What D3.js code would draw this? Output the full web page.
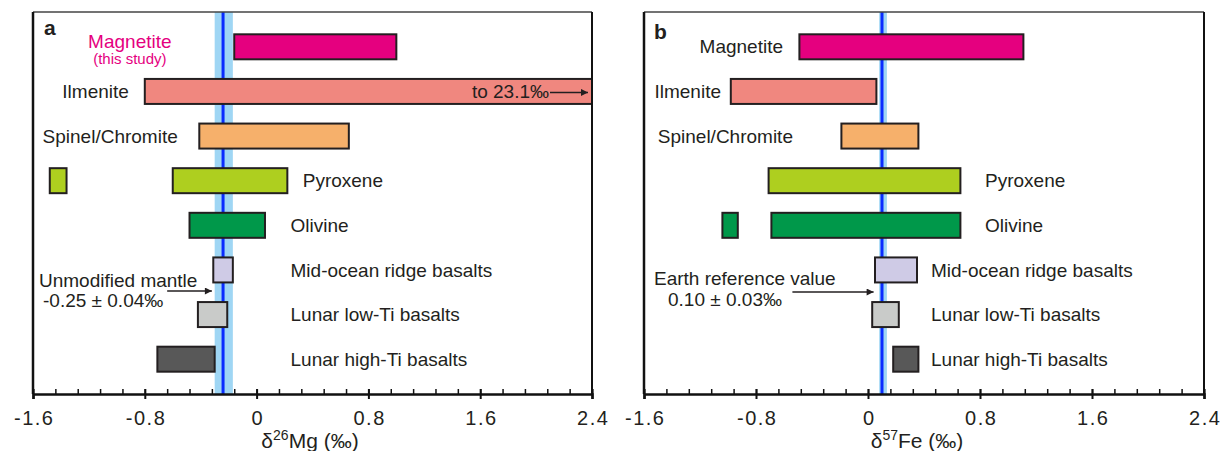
<!DOCTYPE html>
<html>
<head>
<meta charset="utf-8">
<script src="https://cdn.jsdelivr.net/npm/d3@7/dist/d3.min.js"></script>
<style>
  html, body { margin: 0; padding: 0; background: #fff; }
  svg { display: block; font-family: "Liberation Sans", Arial, Helvetica, sans-serif; }
</style>
</head>
<body>
<svg id="chart" width="1224" height="451"></svg>
<script>
// ---------------- data ----------------
const categories = ["Magnetite", "Ilmenite", "Spinel/Chromite", "Pyroxene", "Olivine",
  "Mid-ocean ridge basalts", "Lunar low-Ti basalts", "Lunar high-Ti basalts"];
const barColors = ["#e5007f", "#f0877f", "#f6b06b", "#aecf1f", "#00984a", "#cfcbe6", "#c9cbc9", "#585858"];

// δ26Mg ranges (‰)
const mgMin = [-0.16, -0.80, -0.41, -0.60, -0.48, -0.31, -0.42, -0.71];
const mgMax = [1.00, 23.1, 0.66, 0.22, 0.06, -0.17, -0.21, -0.30];
const mgExtraCat = ["Pyroxene"];
const mgExtraMin = [-1.48];
const mgExtraMax = [-1.36];
const mgRef = -0.24, mgRefLow = -0.30, mgRefHigh = -0.17;

// δ57Fe ranges (‰)
const feMin = [-0.49, -0.98, -0.19, -0.71, -0.69, 0.05, 0.03, 0.18];
const feMax = [1.11, 0.06, 0.36, 0.66, 0.66, 0.35, 0.22, 0.36];
const feExtraCat = ["Olivine"];
const feExtraMin = [-1.04];
const feExtraMax = [-0.93];
const feRef = 0.10, feRefLow = 0.08, feRefHigh = 0.135;

const majorTicks = [-1.6, -0.8, 0, 0.8, 1.6, 2.4];
const minorTicks = d3.range(-1.6, 2.4001, 0.16).map(v => +v.toFixed(2));
const tickLabels = ["-1.6", "-0.8", "0", "0.8", "1.6", "2.4"];

// ---------------- layout ----------------
const svg = d3.select("#chart");
const textColor = "#231f20";

const panels = [
  {
    letter: "a", left: 33, right: 592, letterX: 44, letterY: 35,
    mins: mgMin, maxs: mgMax, exCat: mgExtraCat, exMin: mgExtraMin, exMax: mgExtraMax,
    ref: mgRef, refLow: mgRefLow, refHigh: mgRefHigh,
    iso: "26", el: "Mg", titleX: 310,
    labels: [
      {v: -0.907, anchor: "middle", dy: -5, color: "#e5007f"},
      {v: -0.914, anchor: "end"},
      {v: -0.564, anchor: "end"},
      {v: 0.33, anchor: "start"},
      {v: 0.243, anchor: "start"},
      {v: 0.243, anchor: "start"},
      {v: 0.243, anchor: "start"},
      {v: 0.243, anchor: "start"}
    ],
    sub: {text: "(this study)", v: -0.907, dy: 12},
    note1: "Unmodified mantle", note1X: 39, note1Y: 280,
    note2: "-0.25 ± 0.04‰", note2X: 43, note2Y: 300,
    arrowFrom: -0.64, arrowTo: -0.32, arrowY: 291,
    ilmeniteNote: true
  },
  {
    letter: "b", left: 644, right: 1204, letterX: 654, letterY: 39,
    mins: feMin, maxs: feMax, exCat: feExtraCat, exMin: feExtraMin, exMax: feExtraMax,
    ref: feRef, refLow: feRefLow, refHigh: feRefHigh,
    iso: "57", el: "Fe", titleX: 917,
    labels: [
      {v: -0.607, anchor: "end"},
      {v: -1.05, anchor: "end"},
      {v: -0.536, anchor: "end"},
      {v: 0.836, anchor: "start"},
      {v: 0.836, anchor: "start"},
      {v: 0.45, anchor: "start"},
      {v: 0.45, anchor: "start"},
      {v: 0.45, anchor: "start"}
    ],
    note1: "Earth reference value", note1X: 654, note1Y: 278,
    note2: "0.10 ± 0.03‰", note2X: 668, note2Y: 299,
    arrowFrom: -0.54, arrowTo: 0.04, arrowY: 292,
    ilmeniteNote: false
  }
];

const plotTop = 12, plotBottom = 394;

const defs = svg.append("defs");
defs.append("marker")
  .attr("id", "arrowhead").attr("viewBox", "0 0 10 10")
  .attr("refX", 10).attr("refY", 5)
  .attr("markerWidth", 10).attr("markerHeight", 7)
  .attr("markerUnits", "userSpaceOnUse")
  .attr("orient", "auto")
  .append("path").attr("d", "M0,0 L10,5 L0,10 z").attr("fill", textColor);

panels.forEach((p, pi) => {
  const x = d3.scaleLinear().domain([-1.6, 2.4]).range([p.left, p.right]).clamp(true);
  const y = d3.scalePoint().domain(categories).range([plotTop, plotBottom]).padding(0.78);
  const barH = 25;
  const g = svg.append("g");

  // reference band and line
  g.append("rect")
    .attr("x", x(p.refLow)).attr("y", plotTop)
    .attr("width", x(p.refHigh) - x(p.refLow)).attr("height", plotBottom - plotTop)
    .attr("fill", "#9fd6f4");
  g.append("line")
    .attr("x1", x(p.ref)).attr("x2", x(p.ref))
    .attr("y1", plotTop).attr("y2", plotBottom)
    .attr("stroke", "#0a2cff").attr("stroke-width", 3);

  // bars
  const rows = categories.map((c, i) => ({c, i, lo: p.mins[i], hi: p.maxs[i]}));
  g.selectAll("rect.bar").data(rows).enter().append("rect")
    .attr("class", "bar")
    .attr("x", d => x(d.lo))
    .attr("y", d => y(d.c) - barH / 2)
    .attr("width", d => x(d.hi) - x(d.lo))
    .attr("height", barH)
    .attr("fill", d => barColors[d.i])
    .attr("stroke", "#231f20").attr("stroke-width", 2);

  const extras = p.exCat.map((c, k) => ({c, i: categories.indexOf(c), lo: p.exMin[k], hi: p.exMax[k]}));
  g.selectAll("rect.extra").data(extras).enter().append("rect")
    .attr("class", "extra")
    .attr("x", d => x(d.lo))
    .attr("y", d => y(d.c) - barH / 2)
    .attr("width", d => x(d.hi) - x(d.lo))
    .attr("height", barH)
    .attr("fill", d => barColors[d.i])
    .attr("stroke", "#231f20").attr("stroke-width", 2);

  // category labels
  g.selectAll("text.cat").data(rows).enter().append("text")
    .attr("class", "cat")
    .attr("x", d => x(p.labels[d.i].v))
    .attr("y", d => y(d.c) + (p.labels[d.i].dy || 0))
    .attr("dy", "0.35em")
    .attr("text-anchor", d => p.labels[d.i].anchor)
    .attr("font-size", 19)
    .attr("fill", d => p.labels[d.i].color || textColor)
    .text(d => d.c);

  if (p.sub) {
    g.append("text")
      .attr("x", x(p.sub.v)).attr("y", y(categories[0]) + p.sub.dy)
      .attr("dy", "0.35em").attr("text-anchor", "middle")
      .attr("font-size", 15).attr("fill", "#e5007f")
      .text(p.sub.text);
  }

  if (p.ilmeniteNote) {
    const yi = y("Ilmenite");
    g.append("text")
      .attr("x", 549).attr("y", yi).attr("dy", "0.35em")
      .attr("text-anchor", "end").attr("font-size", 19).attr("fill", textColor)
      .text("to 23.1‰");
    g.append("line")
      .attr("x1", 550).attr("x2", 588).attr("y1", yi + 1).attr("y2", yi + 1)
      .attr("stroke", textColor).attr("stroke-width", 1.5)
      .attr("marker-end", "url(#arrowhead)");
  }

  // annotation
  g.append("text").attr("x", p.note1X).attr("y", p.note1Y).attr("dy", "0.35em")
    .attr("font-size", 19).attr("fill", textColor).text(p.note1);
  g.append("text").attr("x", p.note2X).attr("y", p.note2Y).attr("dy", "0.35em")
    .attr("font-size", 19).attr("fill", textColor).text(p.note2);
  g.append("line")
    .attr("x1", x(p.arrowFrom)).attr("x2", x(p.arrowTo))
    .attr("y1", p.arrowY).attr("y2", p.arrowY)
    .attr("stroke", textColor).attr("stroke-width", 1.5)
    .attr("marker-end", "url(#arrowhead)");

  // frame
  g.append("line").attr("x1", p.left).attr("x2", p.right).attr("y1", plotTop).attr("y2", plotTop)
    .attr("stroke", "#444").attr("stroke-width", 1.5);
  g.append("line").attr("x1", p.right).attr("x2", p.right).attr("y1", plotTop).attr("y2", plotBottom)
    .attr("stroke", "#111").attr("stroke-width", 2);
  g.append("line").attr("x1", p.left).attr("x2", p.left).attr("y1", plotTop).attr("y2", plotBottom)
    .attr("stroke", "#111").attr("stroke-width", 2.5);

  // axes
  const minorAxis = d3.axisBottom(x).tickValues(minorTicks).tickSize(-5).tickSizeOuter(0).tickFormat("");
  const ga = g.append("g").attr("transform", `translate(0,${plotBottom})`).call(minorAxis);
  ga.select(".domain").remove();
  ga.selectAll("line").attr("stroke", "#111").attr("stroke-width", 1.5);

  const majorAxis = d3.axisBottom(x).tickValues(majorTicks).tickSizeOuter(0)
    .tickSize(5).tickPadding(12)
    .tickFormat((d, i) => tickLabels[i]);
  const gm = g.append("g").attr("transform", `translate(0,${plotBottom})`).call(majorAxis);
  gm.select(".domain").attr("stroke", "#111").attr("stroke-width", 2.5);
  gm.selectAll(".tick line").attr("y1", -5).attr("y2", 5).attr("stroke", "#111").attr("stroke-width", 2);
  gm.selectAll(".tick text")
    .attr("font-size", 20).attr("fill", textColor)
    .attr("letter-spacing", 1.5)
    .attr("dx", 0.75)
    .attr("font-family", "Liberation Sans, Arial, sans-serif");

  // axis title
  const t = g.append("text").attr("x", p.titleX).attr("y", 448)
    .attr("text-anchor", "middle").attr("font-size", 21).attr("fill", textColor);
  t.append("tspan").text("δ");
  t.append("tspan").attr("font-size", 14).attr("dy", -8).text(p.iso);
  t.append("tspan").attr("dy", 8).text(p.el + " (‰)");

  // panel letter
  g.append("text").attr("x", p.letterX).attr("y", p.letterY)
    .attr("font-size", 21).attr("font-weight", "bold").attr("fill", textColor)
    .text(p.letter);
});
</script>
</body>
</html>
